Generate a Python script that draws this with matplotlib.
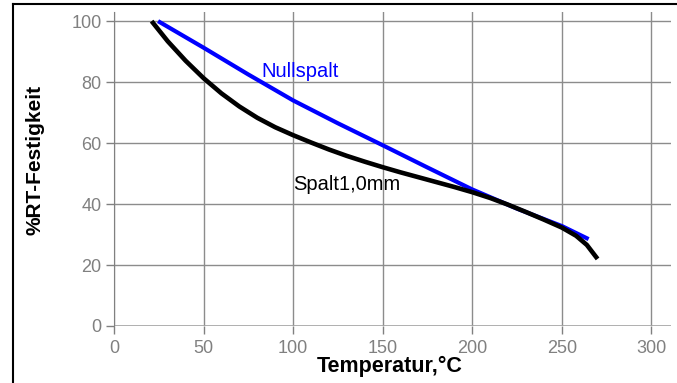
import matplotlib.pyplot as plt
from matplotlib.lines import Line2D

plt.rcParams['font.family'] = ['Liberation Sans', 'DejaVu Sans']

# Nullspalt (blue)
null_t = [24.6, 50, 75, 100, 125, 150, 175, 200, 225, 250, 265]
null_f = [100, 91.3, 82.5, 74.0, 66.5, 59.3, 52.0, 44.8, 38.5, 32.8, 28.5]

# Spalt 1,0 mm (black)
spalt_t = [21, 30, 40, 50, 60, 70, 80, 90, 100, 110, 120, 130, 140, 150, 160, 170,
           180, 190, 200, 210, 220, 230, 240, 250, 258, 264, 270]
spalt_f = [100, 93.4, 87.0, 81.3, 76.3, 72.0, 68.3, 65.2, 62.6, 60.2, 57.9, 55.8,
           53.9, 52.1, 50.4, 48.8, 47.2, 45.6, 43.9, 42.0, 39.8, 37.4, 34.9, 32.3,
           29.6, 26.6, 22.0]

x_ticks = [0, 50, 100, 150, 200, 250, 300]
y_ticks = [0, 20, 40, 60, 80, 100]

fig = plt.figure(figsize=(6.77, 3.83), dpi=100)
ax = fig.add_axes([114 / 677, 57 / 383, 557 / 677, 314 / 383])

ax.plot(null_t, null_f, color='#0000ff', lw=3.0, solid_capstyle='butt',
        solid_joinstyle='round', zorder=3)
ax.plot(spalt_t, spalt_f, color='black', lw=3.3, solid_capstyle='butt',
        solid_joinstyle='round', zorder=4)

ax.text(82.5, 81.6, 'Nullspalt', color='#0000ff', fontsize=14.5, ha='left', va='baseline')
ax.text(100, 44.6, 'Spalt1,0mm', color='black', fontsize=14.5, ha='left', va='baseline')

ax.set_xlim(0, 311)
ax.set_ylim(0, 103)
ax.set_xticks(x_ticks)
ax.set_yticks(y_ticks)
ax.grid(True, color='#8c8c8c', lw=1.0)
ax.set_axisbelow(True)
for s in ['top', 'right', 'bottom']:
    ax.spines[s].set_visible(False)
ax.spines['left'].set_color('#808080')
ax.axhline(0, color='#a6a6a6', lw=1.2, zorder=1)
ax.tick_params(axis='both', colors='#808080', labelcolor='#808080', labelsize=13,
               length=6, width=1)
ax.tick_params(axis='x', pad=4)
ax.tick_params(axis='y', pad=3)

ax.set_xlabel('Temperatur,°C', fontsize=15.5, fontweight='bold', va='center')
ax.set_ylabel('%RT-Festigkeit', fontsize=15, fontweight='bold', va='center')
ax.xaxis.set_label_coords(0.495, -0.13)
ax.yaxis.set_label_coords(-0.142, 0.53)

# outer chart frame (cut off at right and bottom)
fy = 1 - 3.5 / 383
fx = 13 / 677
fig.add_artist(Line2D([fx, 1.0], [fy, fy], color='black', lw=1.5,
                      transform=fig.transFigure))
fig.add_artist(Line2D([fx, fx], [0, fy], color='black', lw=1.5,
                      transform=fig.transFigure))

fig.savefig('out.png', dpi=100)
